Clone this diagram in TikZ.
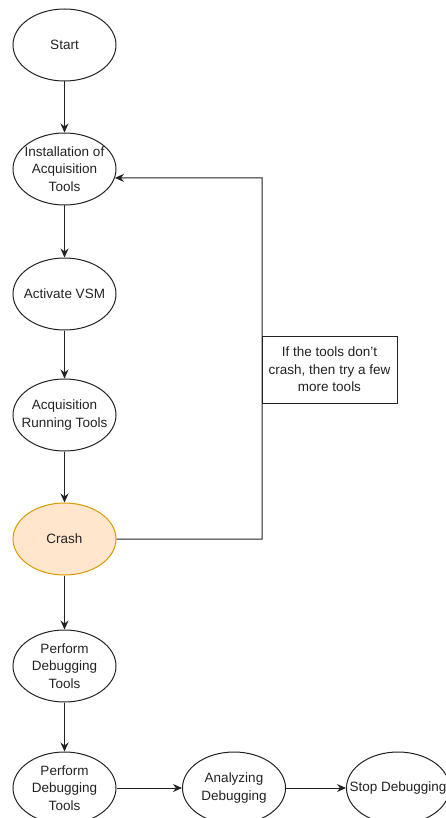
\documentclass[tikz,border=0pt]{standalone}
\usepackage{fontspec}
\setmainfont{Liberation Sans}
\usetikzlibrary{shapes.geometric,arrows.meta}
\definecolor{crashfill}{HTML}{FFE6CC}
\definecolor{crashdraw}{HTML}{D79B00}
\definecolor{ink}{HTML}{222222}
\begin{document}
\begin{tikzpicture}[x=1pt,y=-1pt,
  stepnode/.style={ellipse,draw=ink,line width=1pt,minimum width=103pt,minimum height=72pt,
    inner sep=0pt},
  crashnode/.style={stepnode,fill=crashfill,draw=crashdraw},
  steptext/.style={inner sep=0pt,align=center,text=ink,font=\fontsize{13.5}{17.5}\selectfont},
  notebox/.style={rectangle,draw=ink,line width=1pt,fill=white,minimum width=135pt,minimum height=67pt,
    inner sep=0pt,align=center,text=ink,font=\fontsize{13.5}{17.5}\selectfont},
  flow/.style={draw=ink,line width=1pt,-{Stealth[length=9pt,width=8pt]}}]
\useasboundingbox (0,0) rectangle (445,818);
\node[stepnode] (start) at (64.5,45) {};
\node[stepnode] (inst) at (64.5,169) {};
\node[stepnode] (vsm) at (64.5,294) {};
\node[stepnode] (acq) at (64.5,415) {};
\node[crashnode] (crash) at (64.5,539) {};
\node[stepnode] (perf1) at (64.5,666) {};
\node[stepnode] (perf2) at (64.5,788) {};
\node[stepnode] (anal) at (234,788) {};
\node[stepnode] (stop) at (398,788) {};
\node[steptext] (start-t) at (start) {Start};
\node[steptext] (inst-t) at (inst) {Installation of\\Acquisition\\Tools};
\node[steptext] (vsm-t) at (vsm) {Activate VSM};
\node[steptext] (acq-t) at (acq) {Acquisition\\Running Tools};
\node[steptext] (crash-t) at (crash) {Crash};
\node[steptext] (perf1-t) at (perf1) {Perform\\Debugging\\Tools};
\node[steptext] (perf2-t) at (perf2) {Perform\\Debugging\\Tools};
\node[steptext] (anal-t) at (anal) {Analyzing\\Debugging};
\node[steptext] (stop-t) at (stop) {Stop Debugging};
\coordinate (fbbot) at (262,539);
\coordinate (fbtop) at (262,178);
\draw[flow] (start) -- (inst);
\draw[flow] (inst) -- (vsm);
\draw[flow] (vsm) -- (acq);
\draw[flow] (acq) -- (crash);
\draw[flow] (crash) -- (perf1);
\draw[flow] (perf1) -- (perf2);
\draw[flow] (perf2) -- (anal);
\draw[flow] (anal) -- (stop);
\draw[flow] (crash.east) -- (fbbot) -- (fbtop) -- (inst.-10);
\node[notebox] (note) at (329.5,369.5) {If the tools don't\\crash, then try a few\\more tools};
\end{tikzpicture}
\end{document}
